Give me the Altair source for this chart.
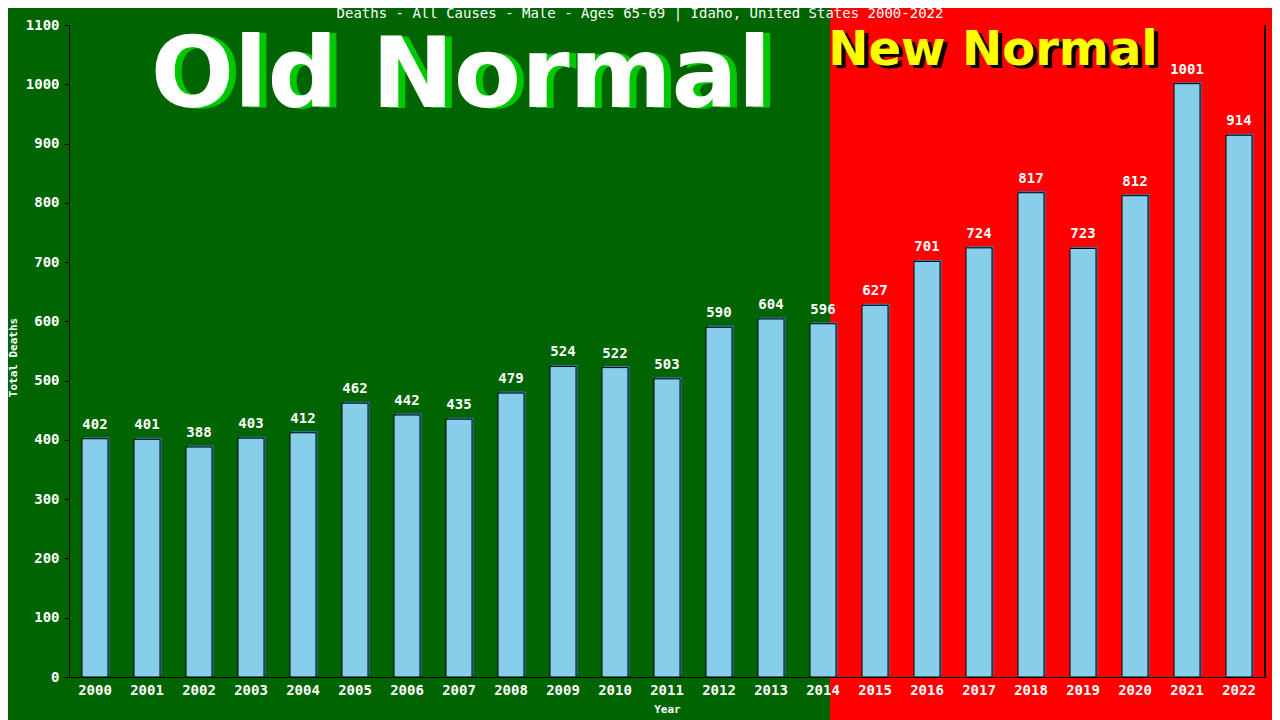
import altair as alt
import pandas as pd

years = [str(y) for y in range(2000, 2023)]
deaths = [402, 401, 388, 403, 412, 462, 442, 435, 479, 524, 522, 503, 590, 604,
          596, 627, 701, 724, 817, 723, 812, 1001, 914]
title_text = "Deaths - All Causes - Male - Ages 65-69 | Idaho, United States 2000-2022"
y_ticks = list(range(0, 1101, 100))

df = pd.DataFrame({"Year": years, "Deaths": deaths})

W, H = 1196, 652
MONO = "DejaVu Sans Mono"

base = alt.Chart(df)

red_bg = base.mark_rect(color="#FF0000", clip=False).encode(
    x=alt.value(761), x2=alt.value(W + 7), y=alt.value(-17), y2=alt.value(H + 43)
)

def label(txt, size, color, x, y, font="DejaVu Sans", weight="bold"):
    return alt.Chart(pd.DataFrame({"t": [txt]})).mark_text(
        font=font, fontWeight=weight, fontSize=size, color=color,
        align="center", baseline="alphabetic"
    ).encode(text="t:N", x=alt.value(x), y=alt.value(y))

old_shadow = label("Old Normal", 98, "#00C800", 399, 83)
old_text = label("Old Normal", 98, "#FFFFFF", 392, 82)
new_shadow = label("New Normal", 48, "#000000", 928, 43)
new_text = label("New Normal", 48, "#FFFF00", 924, 40)
title_mark = label(title_text, 14, "#FFFFFF", 571, -7, font=MONO, weight="normal")

xenc = alt.X("Year:N", title="Year", sort=years,
             scale=alt.Scale(paddingInner=0.5, paddingOuter=0.25),
             axis=alt.Axis(labelAngle=0, ticks=False, domainColor="black", zindex=1,
                           labelColor="white", labelFont=MONO, labelFontSize=14,
                           labelFontWeight="bold", labelPadding=6,
                           titleColor="white", titleFont=MONO,
                           titleFontSize=11, titleFontWeight="bold",
                           titleX=598, titleY=32, titleBaseline="middle",
                           titleAlign="center"))
yenc = alt.Y("Deaths:Q", title="Total Deaths",
             scale=alt.Scale(domain=[0, 1100], nice=False),
             axis=alt.Axis(values=y_ticks, format="d", grid=False, tickSize=5,
                           tickColor="black", zindex=1,
                           domainColor="black", labelColor="white", labelFont=MONO,
                           labelFontSize=14, labelFontWeight="bold", labelPadding=5,
                           titleColor="white", titleFont=MONO, titleFontSize=11,
                           titleFontWeight="bold", titleX=-56, titleY=332,
                           titleAngle=270, titleBaseline="middle", titleAlign="center"))

bar_shadow = base.mark_bar(color="#3A7BB8", xOffset=1.5, yOffset=-1.5).encode(
    x=xenc, y=yenc
)
bars = base.mark_bar(color="#87CEEB", stroke="black", strokeWidth=1).encode(x=xenc, y=yenc)
labels = base.mark_text(color="white", font=MONO, fontSize=14, fontWeight="bold",
                        baseline="bottom", dy=-7).encode(
    x=xenc, y=yenc, text="Deaths:Q"
)

right_rule = base.mark_rule(color="black").encode(
    x=alt.value(W), y=alt.value(0), y2=alt.value(H)
)

chart = alt.layer(red_bg, old_shadow, old_text, new_shadow, new_text, title_mark,
                  bar_shadow, bars, labels, right_rule).properties(
    width=W, height=H,
    background="#006400",
    padding={"left": 61, "top": 17, "right": 7, "bottom": 43},
    autosize=alt.AutoSizeParams(type="none"),
).configure_view(stroke=None)

chart.save("out.html", embed_options={"renderer": "svg", "actions": False})
